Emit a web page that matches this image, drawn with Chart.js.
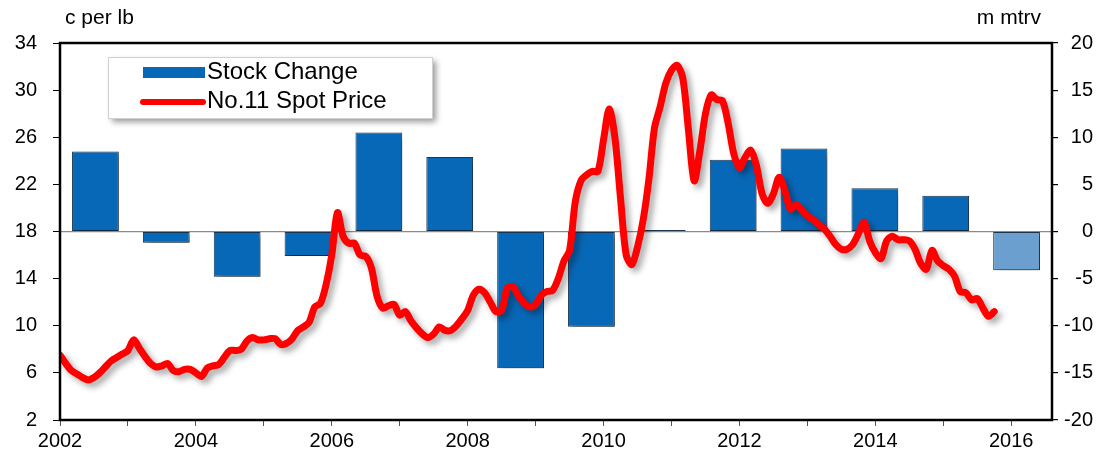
<!DOCTYPE html>
<html>
<head>
<meta charset="utf-8">
<script src="https://cdn.jsdelivr.net/npm/chart.js@4.4.1/dist/chart.umd.min.js"></script>
<style>
    body { margin: 0; background: #fff; }
    #wrap { width: 1116px; height: 455px; }
</style>
</head>
<body>
<div id="wrap"><canvas id="chart" width="1116" height="455"></canvas></div>
<script>
// annual stock change, m mtrv (last year is a forecast, drawn lighter)
const years = ['2002', '2003', '2004', '2005', '2006', '2007', '2008', '2009', '2010', '2011', '2012', '2013', '2014', '2015'];
const stockChange = [8.5, -1.2, -4.8, -2.6, 10.5, 7.9, -14.5, -10.1, 0.15, 7.6, 8.8, 4.6, 3.8, -4.1];
const forecastYears = ['2015'];

// monthly No.11 spot price, c per lb, from Jan 2002
const priceStartYear = 2002;
const spotPrice = [
    7.5, 6.8, 6.2, 5.9, 5.6, 5.4, 5.6, 6.0, 6.5, 7.0, 7.3, 7.6,
    7.9, 8.8, 8.1, 7.4, 6.8, 6.5, 6.6, 6.8, 6.2, 6.1, 6.3, 6.3,
    6.0, 5.7, 6.4, 6.6, 6.7, 7.3, 7.9, 7.9, 8.0, 8.7, 9.0, 8.8,
    8.8, 8.9, 8.9, 8.4, 8.5, 8.9, 9.6, 9.9, 10.3, 11.6, 11.9, 13.5,
    16.0, 19.6, 17.6, 17.0, 17.0, 16.0, 15.9, 14.9, 12.5, 11.5, 11.7, 11.8,
    10.9, 11.2, 10.4, 9.8, 9.3, 9.0, 9.3, 9.9, 9.6, 9.6, 10.0, 10.6,
    11.3, 12.6, 13.1, 12.8, 12.0, 11.2, 11.3, 13.2, 13.3, 12.5, 11.9, 11.6,
    11.8, 12.6, 12.9, 13.0, 14.0, 15.5, 16.4, 20.5, 22.3, 22.8, 23.1, 23.1,
    25.8, 28.4, 26.0, 20.8, 16.0, 15.2, 16.7, 19.0, 22.4, 26.8, 28.6, 30.6,
    31.7, 32.1, 31.0, 26.6, 22.3, 24.8, 28.0, 29.6, 29.2, 29.1, 27.2, 24.6,
    23.4, 24.3, 24.9, 23.6, 21.2, 20.4, 21.2, 22.6, 21.5, 19.9, 20.3, 19.8,
    19.3, 19.0, 18.6, 18.2, 17.6, 16.9, 16.5, 16.5, 16.9, 17.8, 18.8, 17.2,
    16.2, 15.7, 17.2, 17.6, 17.3, 17.3, 17.2, 16.5, 15.3, 14.8, 16.4, 15.5,
    15.1, 14.8, 14.2, 12.9, 12.8, 12.2, 12.3, 11.5, 10.8, 11.2
];

const leftTicks = { min: 2, max: 34, step: 4 };
const rightTicks = { min: -20, max: 20, step: 5 };
const xRange = { min: 2002, max: 2016.6 };

const FONT = 'Liberation Sans, Arial, sans-serif';

const pricePoints = spotPrice.map((v, i) => ({ x: priceStartYear + i / 12, y: v }));

const shadowPlugin = {
    id: 'shadow',
    beforeDatasetDraw(chart) {
        const ctx = chart.ctx;
        ctx.save();
        ctx.shadowColor = 'rgba(0,0,0,0.35)';
        ctx.shadowBlur = 6;
        ctx.shadowOffsetX = 4;
        ctx.shadowOffsetY = 4;
    },
    afterDatasetDraw(chart) {
        chart.ctx.restore();
    }
};

const framePlugin = {
    id: 'frame',
    afterDatasetsDraw(chart) {
        const ctx = chart.ctx;
        const a = chart.chartArea;
        ctx.save();
        ctx.strokeStyle = '#000';
        ctx.lineWidth = 2.5;
        ctx.strokeRect(a.left, a.top, a.right - a.left, a.bottom - a.top);

        // legend box
        const bx = 108, by = 57, bw = 324, bh = 61;
        ctx.shadowColor = 'rgba(0,0,0,0.4)';
        ctx.shadowBlur = 6;
        ctx.shadowOffsetX = 4;
        ctx.shadowOffsetY = 4;
        ctx.fillStyle = '#fff';
        ctx.fillRect(bx, by, bw, bh);
        ctx.shadowColor = 'transparent';
        ctx.strokeStyle = '#d0d0d0';
        ctx.lineWidth = 1;
        ctx.strokeRect(bx + 0.5, by + 0.5, bw, bh);

        ctx.fillStyle = '#0868b8';
        ctx.fillRect(143, 67, 62, 11);
        ctx.strokeStyle = '#ff0000';
        ctx.lineWidth = 6;
        ctx.lineCap = 'round';
        ctx.beginPath();
        ctx.moveTo(143, 102);
        ctx.lineTo(203, 102);
        ctx.stroke();

        ctx.fillStyle = '#000';
        ctx.font = '24px ' + FONT;
        ctx.textBaseline = 'middle';
        ctx.textAlign = 'left';
        ctx.fillText('Stock Change', 207, 72);
        ctx.fillText('No.11 Spot Price', 207, 101);

        // unit labels
        ctx.font = '21px ' + FONT;
        ctx.fillText('c per lb', 65, 18);
        ctx.textAlign = 'right';
        ctx.fillText('m mtrv', 1041, 18);
        ctx.restore();
    }
};

const ctx = document.getElementById('chart').getContext('2d');
new Chart(ctx, {
    type: 'bar',
    data: {
        labels: years,
        datasets: [
            {
                type: 'line',
                label: 'No.11 Spot Price',
                data: pricePoints,
                xAxisID: 'xLine',
                yAxisID: 'y',
                borderColor: '#ff0000',
                borderWidth: 7,
                pointRadius: 0,
                tension: 0.3,
                borderCapStyle: 'round',
                borderJoinStyle: 'round',
                order: 0
            },
            {
                type: 'bar',
                label: 'Stock Change',
                data: stockChange,
                xAxisID: 'x',
                yAxisID: 'y1',
                backgroundColor: years.map(y => forecastYears.includes(y) ? '#6a9fcf' : '#0868b8'),
                borderColor: '#1b3550',
                borderWidth: 1,
                borderSkipped: false,
                grouped: false,
                categoryPercentage: 1,
                barPercentage: 0.66,
                order: 1
            }
        ]
    },
    options: {
        responsive: false,
        animation: false,
        layout: { padding: { top: 43, left: 0, right: 23, bottom: 0 } },
        plugins: {
            legend: { display: false },
            tooltip: { enabled: false }
        },
        scales: {
            x: {
                type: 'category',
                display: false,
                offset: true
            },
            xLine: {
                type: 'linear',
                position: 'bottom',
                min: xRange.min,
                max: xRange.max,
                offset: false,
                afterFit(scale) { scale.height = 35; },
                border: { display: false },
                grid: { offset: false, drawOnChartArea: false, tickLength: 6, tickColor: '#555' },
                ticks: {
                    stepSize: 1,
                    includeBounds: false,
                    autoSkip: false,
                    maxRotation: 0,
                    padding: 3,
                    color: '#000',
                    font: { family: FONT, size: 20 },
                    callback: v => (v % 2 === 0 ? String(v) : '')
                }
            },
            y: {
                position: 'left',
                min: leftTicks.min,
                max: leftTicks.max,
                afterFit(scale) { scale.width = 60; },
                border: { display: false },
                grid: { drawOnChartArea: false, tickLength: 7, tickColor: '#000' },
                ticks: {
                    stepSize: leftTicks.step,
                    padding: 16,
                    color: '#000',
                    font: { family: FONT, size: 20 }
                }
            },
            y1: {
                position: 'right',
                min: rightTicks.min,
                max: rightTicks.max,
                afterFit(scale) { scale.width = 41; },
                border: { display: false },
                grid: {
                    drawOnChartArea: true,
                    tickLength: 6,
                    tickColor: '#000',
                    color: c => (c.tick && c.tick.value === 0 ? '#8a8a8a' : 'rgba(0,0,0,0)'),
                    lineWidth: 1.2
                },
                ticks: {
                    stepSize: rightTicks.step,
                    padding: 4,
                    crossAlign: 'far',
                    color: '#000',
                    font: { family: FONT, size: 20 }
                }
            }
        }
    },
    plugins: [shadowPlugin, framePlugin]
});
</script>
</body>
</html>
